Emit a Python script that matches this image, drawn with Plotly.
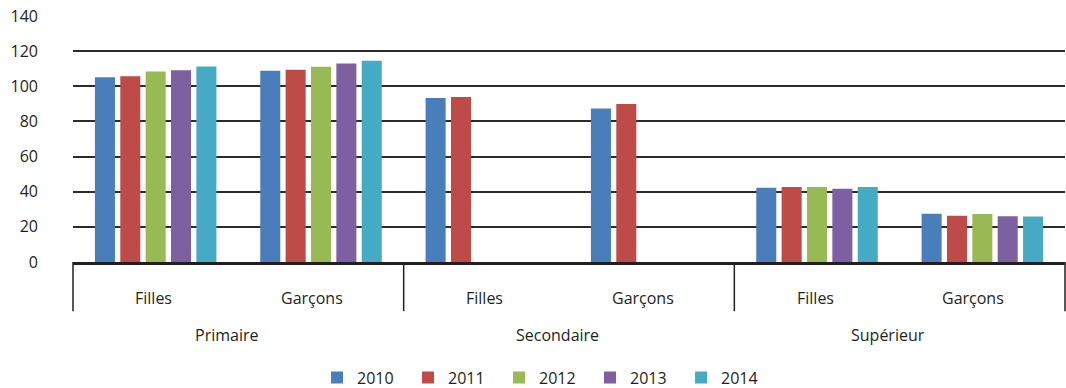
import plotly.graph_objects as go

# Enrolment ratios by level, sex and year
levels = ["Primaire", "Secondaire", "Supérieur"]
sexes = ["Filles", "Garçons"]
years = ["2010", "2011", "2012", "2013", "2014"]

v2010 = [105.1, 108.8, 93.4, 87.4, 42.3, 27.4]
v2011 = [105.7, 109.4, 93.9, 89.9, 42.7, 26.3]
v2012 = [108.4, 111.1, None, None, 42.7, 27.3]
v2013 = [109.1, 113.0, None, None, 41.7, 26.1]
v2014 = [111.3, 114.5, None, None, 42.7, 25.9]
series = [v2010, v2011, v2012, v2013, v2014]

colors = ["#4a7ebb", "#be4b48", "#98b954", "#7d60a0", "#46aac5"]
y_ticks = [0, 20, 40, 60, 80, 100, 120, 140]

font_family = "Open Sans"
text_color = "#231f20"

# one category per (level, sex) pair
x_keys = [f"{lv} · {sx}" for lv in levels for sx in sexes]

fig = go.Figure()
for yr, vals, col in zip(years, series, colors):
    fig.add_trace(go.Bar(name=yr, x=x_keys, y=vals, marker=dict(color=col, line=dict(width=0))))

annotations = []
# inner row: sex labels
sex_shift = {"Filles": -2, "Garçons": -9}
for i, key in enumerate(x_keys):
    sx = sexes[i % 2]
    annotations.append(dict(x=i, y=-0.145, xref="x", yref="paper", text=sx,
                            showarrow=False, xanchor="center", yanchor="middle",
                            xshift=sex_shift[sx],
                            font=dict(family=font_family, size=16, color=text_color)))
# outer row: level labels
for j, lv in enumerate(levels):
    annotations.append(dict(x=2 * j + 0.5, y=-0.298, xref="x", yref="paper", text=lv,
                            showarrow=False, xanchor="center", yanchor="middle", xshift=-12,
                            font=dict(family=font_family, size=16, color=text_color)))

# group dividers below the axis
shapes = []
n_groups = len(levels)
for k in range(n_groups + 1):
    xp = k / n_groups
    shapes.append(dict(type="line", xref="paper", yref="paper", x0=xp, x1=xp, y0=0, y1=-0.2,
                       line=dict(color=text_color, width=1.5)))

fig.update_layout(
    width=1066, height=388,
    margin=dict(l=73, r=1, t=16, b=126, autoexpand=False),
    paper_bgcolor="white", plot_bgcolor="white",
    barmode="group", bargap=0.233, bargroupgap=0.21,
    font=dict(family=font_family, size=16, color=text_color),
    xaxis=dict(type="category", showticklabels=False, showgrid=False, showline=True,
               linecolor=text_color, linewidth=3, ticks="", range=[-0.5, 5.5]),
    yaxis=dict(range=[0, 140], tickvals=y_ticks, showgrid=True, gridcolor="#2b2b2b",
               gridwidth=1.5, zeroline=False, showline=False, ticks="",
               ticklabelstandoff=34, tickfont=dict(family=font_family, size=16, color=text_color)),
    legend=dict(orientation="h", x=0.246, xanchor="left", y=-0.47, yanchor="middle",
                entrywidth=46, font=dict(family=font_family, size=16, color=text_color),
                itemclick=False),
    annotations=annotations,
    shapes=shapes,
)

fig.write_html("out.html")
